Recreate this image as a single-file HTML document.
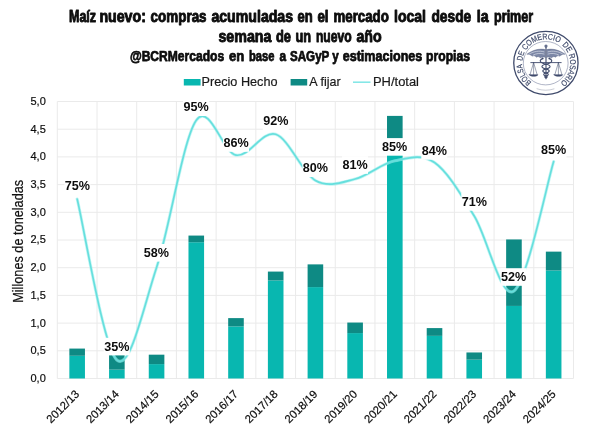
<!DOCTYPE html><html><head><meta charset="utf-8"><title>Maíz nuevo</title><style>html,body{margin:0;padding:0;background:#fff}svg{display:block}</style></head><body><svg width="600" height="435" viewBox="0 0 600 435" font-family="Liberation Sans, Arial, sans-serif">
<rect width="600" height="435" fill="#fff"/>
<line x1="57.3" x2="573.5" y1="101.50" y2="101.50" stroke="#eaeaea" stroke-width="1"/>
<line x1="57.3" x2="573.5" y1="129.20" y2="129.20" stroke="#eaeaea" stroke-width="1"/>
<line x1="57.3" x2="573.5" y1="156.90" y2="156.90" stroke="#eaeaea" stroke-width="1"/>
<line x1="57.3" x2="573.5" y1="184.60" y2="184.60" stroke="#eaeaea" stroke-width="1"/>
<line x1="57.3" x2="573.5" y1="212.30" y2="212.30" stroke="#eaeaea" stroke-width="1"/>
<line x1="57.3" x2="573.5" y1="240.00" y2="240.00" stroke="#eaeaea" stroke-width="1"/>
<line x1="57.3" x2="573.5" y1="267.70" y2="267.70" stroke="#eaeaea" stroke-width="1"/>
<line x1="57.3" x2="573.5" y1="295.40" y2="295.40" stroke="#eaeaea" stroke-width="1"/>
<line x1="57.3" x2="573.5" y1="323.10" y2="323.10" stroke="#eaeaea" stroke-width="1"/>
<line x1="57.3" x2="573.5" y1="350.80" y2="350.80" stroke="#eaeaea" stroke-width="1"/>
<line x1="57.3" x2="573.5" y1="378.50" y2="378.50" stroke="#eaeaea" stroke-width="1"/>
<line x1="57.30" x2="57.30" y1="101.5" y2="378.5" stroke="#eaeaea" stroke-width="1"/>
<line x1="97.01" x2="97.01" y1="101.5" y2="378.5" stroke="#eaeaea" stroke-width="1"/>
<line x1="136.72" x2="136.72" y1="101.5" y2="378.5" stroke="#eaeaea" stroke-width="1"/>
<line x1="176.42" x2="176.42" y1="101.5" y2="378.5" stroke="#eaeaea" stroke-width="1"/>
<line x1="216.13" x2="216.13" y1="101.5" y2="378.5" stroke="#eaeaea" stroke-width="1"/>
<line x1="255.84" x2="255.84" y1="101.5" y2="378.5" stroke="#eaeaea" stroke-width="1"/>
<line x1="295.55" x2="295.55" y1="101.5" y2="378.5" stroke="#eaeaea" stroke-width="1"/>
<line x1="335.25" x2="335.25" y1="101.5" y2="378.5" stroke="#eaeaea" stroke-width="1"/>
<line x1="374.96" x2="374.96" y1="101.5" y2="378.5" stroke="#eaeaea" stroke-width="1"/>
<line x1="414.67" x2="414.67" y1="101.5" y2="378.5" stroke="#eaeaea" stroke-width="1"/>
<line x1="454.38" x2="454.38" y1="101.5" y2="378.5" stroke="#eaeaea" stroke-width="1"/>
<line x1="494.08" x2="494.08" y1="101.5" y2="378.5" stroke="#eaeaea" stroke-width="1"/>
<line x1="533.79" x2="533.79" y1="101.5" y2="378.5" stroke="#eaeaea" stroke-width="1"/>
<line x1="573.50" x2="573.50" y1="101.5" y2="378.5" stroke="#eaeaea" stroke-width="1"/>
<rect x="69.35" y="355.79" width="15.6" height="22.71" fill="#08b7b0"/>
<rect x="69.35" y="348.58" width="15.6" height="7.20" fill="#0e8a84"/>
<rect x="109.06" y="369.64" width="15.6" height="8.86" fill="#08b7b0"/>
<rect x="109.06" y="353.85" width="15.6" height="15.79" fill="#0e8a84"/>
<rect x="148.77" y="364.10" width="15.6" height="14.40" fill="#08b7b0"/>
<rect x="148.77" y="354.68" width="15.6" height="9.42" fill="#0e8a84"/>
<rect x="188.48" y="242.22" width="15.6" height="136.28" fill="#08b7b0"/>
<rect x="188.48" y="235.57" width="15.6" height="6.65" fill="#0e8a84"/>
<rect x="228.18" y="326.42" width="15.6" height="52.08" fill="#08b7b0"/>
<rect x="228.18" y="318.11" width="15.6" height="8.31" fill="#0e8a84"/>
<rect x="267.89" y="280.44" width="15.6" height="98.06" fill="#08b7b0"/>
<rect x="267.89" y="271.58" width="15.6" height="8.86" fill="#0e8a84"/>
<rect x="307.60" y="287.09" width="15.6" height="91.41" fill="#08b7b0"/>
<rect x="307.60" y="264.38" width="15.6" height="22.71" fill="#0e8a84"/>
<rect x="347.31" y="333.07" width="15.6" height="45.43" fill="#08b7b0"/>
<rect x="347.31" y="322.55" width="15.6" height="10.53" fill="#0e8a84"/>
<rect x="387.02" y="154.68" width="15.6" height="223.82" fill="#08b7b0"/>
<rect x="387.02" y="115.90" width="15.6" height="38.78" fill="#0e8a84"/>
<rect x="426.72" y="335.84" width="15.6" height="42.66" fill="#08b7b0"/>
<rect x="426.72" y="328.09" width="15.6" height="7.76" fill="#0e8a84"/>
<rect x="466.43" y="359.66" width="15.6" height="18.84" fill="#08b7b0"/>
<rect x="466.43" y="352.46" width="15.6" height="7.20" fill="#0e8a84"/>
<rect x="506.14" y="305.93" width="15.6" height="72.57" fill="#08b7b0"/>
<rect x="506.14" y="239.45" width="15.6" height="66.48" fill="#0e8a84"/>
<rect x="545.85" y="270.47" width="15.6" height="108.03" fill="#08b7b0"/>
<rect x="545.85" y="251.63" width="15.6" height="18.84" fill="#0e8a84"/>
<path d="M77.15,199.00 C83.77,225.83 103.63,348.58 116.86,360.00 C130.10,371.42 143.33,307.45 156.57,267.50 C169.81,227.55 183.04,139.03 196.28,120.30 C209.51,101.57 222.75,152.77 235.98,155.10 C249.22,157.43 262.46,130.07 275.69,134.30 C288.93,138.53 302.16,173.05 315.40,180.50 C328.64,187.95 341.87,182.28 355.11,179.00 C368.34,175.72 381.58,163.55 394.82,160.80 C408.05,158.05 421.29,153.30 434.52,162.50 C447.76,171.70 460.99,194.58 474.23,216.00 C487.47,237.42 500.70,300.08 513.94,291.00 C527.17,281.92 547.03,183.08 553.65,161.50" fill="none" stroke="#9aeeed" stroke-opacity="0.6" stroke-width="3.1" stroke-linecap="round" stroke-linejoin="round"/>
<path d="M77.15,199.00 C83.77,225.83 103.63,348.58 116.86,360.00 C130.10,371.42 143.33,307.45 156.57,267.50 C169.81,227.55 183.04,139.03 196.28,120.30 C209.51,101.57 222.75,152.77 235.98,155.10 C249.22,157.43 262.46,130.07 275.69,134.30 C288.93,138.53 302.16,173.05 315.40,180.50 C328.64,187.95 341.87,182.28 355.11,179.00 C368.34,175.72 381.58,163.55 394.82,160.80 C408.05,158.05 421.29,153.30 434.52,162.50 C447.76,171.70 460.99,194.58 474.23,216.00 C487.47,237.42 500.70,300.08 513.94,291.00 C527.17,281.92 547.03,183.08 553.65,161.50" fill="none" stroke="#66dfdd" stroke-width="1.65" stroke-linecap="round" stroke-linejoin="round"/>
<text x="45.8" y="104.90" font-size="11.6" text-anchor="end" fill="#0d0d0d" stroke="#0d0d0d" stroke-width="0.2" textLength="15.3" lengthAdjust="spacingAndGlyphs">5,0</text>
<text x="45.8" y="132.60" font-size="11.6" text-anchor="end" fill="#0d0d0d" stroke="#0d0d0d" stroke-width="0.2" textLength="15.3" lengthAdjust="spacingAndGlyphs">4,5</text>
<text x="45.8" y="160.30" font-size="11.6" text-anchor="end" fill="#0d0d0d" stroke="#0d0d0d" stroke-width="0.2" textLength="15.3" lengthAdjust="spacingAndGlyphs">4,0</text>
<text x="45.8" y="188.00" font-size="11.6" text-anchor="end" fill="#0d0d0d" stroke="#0d0d0d" stroke-width="0.2" textLength="15.3" lengthAdjust="spacingAndGlyphs">3,5</text>
<text x="45.8" y="215.70" font-size="11.6" text-anchor="end" fill="#0d0d0d" stroke="#0d0d0d" stroke-width="0.2" textLength="15.3" lengthAdjust="spacingAndGlyphs">3,0</text>
<text x="45.8" y="243.40" font-size="11.6" text-anchor="end" fill="#0d0d0d" stroke="#0d0d0d" stroke-width="0.2" textLength="15.3" lengthAdjust="spacingAndGlyphs">2,5</text>
<text x="45.8" y="271.10" font-size="11.6" text-anchor="end" fill="#0d0d0d" stroke="#0d0d0d" stroke-width="0.2" textLength="15.3" lengthAdjust="spacingAndGlyphs">2,0</text>
<text x="45.8" y="298.80" font-size="11.6" text-anchor="end" fill="#0d0d0d" stroke="#0d0d0d" stroke-width="0.2" textLength="15.3" lengthAdjust="spacingAndGlyphs">1,5</text>
<text x="45.8" y="326.50" font-size="11.6" text-anchor="end" fill="#0d0d0d" stroke="#0d0d0d" stroke-width="0.2" textLength="15.3" lengthAdjust="spacingAndGlyphs">1,0</text>
<text x="45.8" y="354.20" font-size="11.6" text-anchor="end" fill="#0d0d0d" stroke="#0d0d0d" stroke-width="0.2" textLength="15.3" lengthAdjust="spacingAndGlyphs">0,5</text>
<text x="45.8" y="381.90" font-size="11.6" text-anchor="end" fill="#0d0d0d" stroke="#0d0d0d" stroke-width="0.2" textLength="15.3" lengthAdjust="spacingAndGlyphs">0,0</text>
<text transform="translate(23.2,241.3) rotate(-90)" font-size="13.8" text-anchor="middle" fill="#111" stroke="#111" stroke-width="0.2" textLength="123" lengthAdjust="spacingAndGlyphs">Millones de toneladas</text>
<text transform="translate(79.95,394.90) rotate(-45)" font-size="11.3" text-anchor="end" fill="#0d0d0d" stroke="#0d0d0d" stroke-width="0.2">2012/13</text>
<text transform="translate(119.66,394.90) rotate(-45)" font-size="11.3" text-anchor="end" fill="#0d0d0d" stroke="#0d0d0d" stroke-width="0.2">2013/14</text>
<text transform="translate(159.37,394.90) rotate(-45)" font-size="11.3" text-anchor="end" fill="#0d0d0d" stroke="#0d0d0d" stroke-width="0.2">2014/15</text>
<text transform="translate(199.08,394.90) rotate(-45)" font-size="11.3" text-anchor="end" fill="#0d0d0d" stroke="#0d0d0d" stroke-width="0.2">2015/16</text>
<text transform="translate(238.78,394.90) rotate(-45)" font-size="11.3" text-anchor="end" fill="#0d0d0d" stroke="#0d0d0d" stroke-width="0.2">2016/17</text>
<text transform="translate(278.49,394.90) rotate(-45)" font-size="11.3" text-anchor="end" fill="#0d0d0d" stroke="#0d0d0d" stroke-width="0.2">2017/18</text>
<text transform="translate(318.20,394.90) rotate(-45)" font-size="11.3" text-anchor="end" fill="#0d0d0d" stroke="#0d0d0d" stroke-width="0.2">2018/19</text>
<text transform="translate(357.91,394.90) rotate(-45)" font-size="11.3" text-anchor="end" fill="#0d0d0d" stroke="#0d0d0d" stroke-width="0.2">2019/20</text>
<text transform="translate(397.62,394.90) rotate(-45)" font-size="11.3" text-anchor="end" fill="#0d0d0d" stroke="#0d0d0d" stroke-width="0.2">2020/21</text>
<text transform="translate(437.32,394.90) rotate(-45)" font-size="11.3" text-anchor="end" fill="#0d0d0d" stroke="#0d0d0d" stroke-width="0.2">2021/22</text>
<text transform="translate(477.03,394.90) rotate(-45)" font-size="11.3" text-anchor="end" fill="#0d0d0d" stroke="#0d0d0d" stroke-width="0.2">2022/23</text>
<text transform="translate(516.74,394.90) rotate(-45)" font-size="11.3" text-anchor="end" fill="#0d0d0d" stroke="#0d0d0d" stroke-width="0.2">2023/24</text>
<text transform="translate(556.45,394.90) rotate(-45)" font-size="11.3" text-anchor="end" fill="#0d0d0d" stroke="#0d0d0d" stroke-width="0.2">2024/25</text>
<rect x="64.40" y="177.10" width="26" height="17.6" fill="#fff"/>
<text x="77.4" y="190.00" font-size="12.6" font-weight="bold" text-anchor="middle" fill="#0d0d0d">75%</text>
<rect x="103.80" y="337.80" width="26" height="17.6" fill="#fff"/>
<text x="116.8" y="350.70" font-size="12.6" font-weight="bold" text-anchor="middle" fill="#0d0d0d">35%</text>
<rect x="143.40" y="244.00" width="26" height="17.6" fill="#fff"/>
<text x="156.4" y="256.90" font-size="12.6" font-weight="bold" text-anchor="middle" fill="#0d0d0d">58%</text>
<rect x="183.00" y="98.40" width="26" height="17.6" fill="#fff"/>
<text x="196" y="111.30" font-size="12.6" font-weight="bold" text-anchor="middle" fill="#0d0d0d">95%</text>
<rect x="223.00" y="134.20" width="26" height="17.6" fill="#fff"/>
<text x="236" y="147.10" font-size="12.6" font-weight="bold" text-anchor="middle" fill="#0d0d0d">86%</text>
<rect x="262.80" y="112.40" width="26" height="17.6" fill="#fff"/>
<text x="275.8" y="125.30" font-size="12.6" font-weight="bold" text-anchor="middle" fill="#0d0d0d">92%</text>
<rect x="302.40" y="159.40" width="26" height="17.6" fill="#fff"/>
<text x="315.4" y="172.30" font-size="12.6" font-weight="bold" text-anchor="middle" fill="#0d0d0d">80%</text>
<rect x="342.00" y="156.20" width="26" height="17.6" fill="#fff"/>
<text x="355" y="169.10" font-size="12.6" font-weight="bold" text-anchor="middle" fill="#0d0d0d">81%</text>
<rect x="381.50" y="138.10" width="26" height="17.6" fill="#fff"/>
<text x="394.5" y="151.00" font-size="12.6" font-weight="bold" text-anchor="middle" fill="#0d0d0d">85%</text>
<rect x="421.30" y="142.10" width="26" height="17.6" fill="#fff"/>
<text x="434.3" y="155.00" font-size="12.6" font-weight="bold" text-anchor="middle" fill="#0d0d0d">84%</text>
<rect x="461.30" y="193.10" width="26" height="17.6" fill="#fff"/>
<text x="474.3" y="206.00" font-size="12.6" font-weight="bold" text-anchor="middle" fill="#0d0d0d">71%</text>
<rect x="500.60" y="268.20" width="26" height="17.6" fill="#fff"/>
<text x="513.6" y="281.10" font-size="12.6" font-weight="bold" text-anchor="middle" fill="#0d0d0d">52%</text>
<rect x="540.50" y="140.60" width="26" height="17.6" fill="#fff"/>
<text x="553.5" y="153.50" font-size="12.6" font-weight="bold" text-anchor="middle" fill="#0d0d0d">85%</text>
<rect x="183.8" y="79" width="16.8" height="6.5" fill="#08b7b0"/>
<text x="201.5" y="85.8" font-size="13.5" fill="#1a1a1a" stroke="#1a1a1a" stroke-width="0.2" textLength="76" lengthAdjust="spacingAndGlyphs">Precio Hecho</text>
<rect x="290.6" y="79" width="16.6" height="6.5" fill="#0e8a84"/>
<text x="309.3" y="85.8" font-size="13.5" fill="#1a1a1a" stroke="#1a1a1a" stroke-width="0.2" textLength="31.4" lengthAdjust="spacingAndGlyphs">A fijar</text>
<line x1="353" x2="370.5" y1="82.2" y2="82.2" stroke="#7fe6e6" stroke-width="1.5"/>
<text x="373" y="85.8" font-size="13.5" fill="#1a1a1a" stroke="#1a1a1a" stroke-width="0.2" textLength="46" lengthAdjust="spacingAndGlyphs">PH/total</text>
<g font-size="16" font-weight="bold" fill="#0d0d0d" stroke="#0d0d0d" stroke-width="0.9" stroke-linejoin="round"><text x="69.0" y="22" textLength="27.1" lengthAdjust="spacingAndGlyphs">Maíz</text><text x="99.4" y="22" textLength="46.5" lengthAdjust="spacingAndGlyphs">nuevo:</text><text x="150.6" y="22" textLength="56.0" lengthAdjust="spacingAndGlyphs">compras</text><text x="211.4" y="22" textLength="81.7" lengthAdjust="spacingAndGlyphs">acumuladas</text><text x="297.4" y="22" textLength="15.2" lengthAdjust="spacingAndGlyphs">en</text><text x="317.4" y="22" textLength="11.2" lengthAdjust="spacingAndGlyphs">el</text><text x="333.4" y="22" textLength="55.5" lengthAdjust="spacingAndGlyphs">mercado</text><text x="394.0" y="22" textLength="32.0" lengthAdjust="spacingAndGlyphs">local</text><text x="431.4" y="22" textLength="39.9" lengthAdjust="spacingAndGlyphs">desde</text><text x="476.7" y="22" textLength="11.9" lengthAdjust="spacingAndGlyphs">la</text><text x="494.1" y="22" textLength="39.0" lengthAdjust="spacingAndGlyphs">primer</text></g>
<g font-size="16" font-weight="bold" fill="#0d0d0d" stroke="#0d0d0d" stroke-width="0.9" stroke-linejoin="round"><text x="218.4" y="42" textLength="53.1" lengthAdjust="spacingAndGlyphs">semana</text><text x="276.0" y="42" textLength="15.0" lengthAdjust="spacingAndGlyphs">de</text><text x="295.5" y="42" textLength="15.6" lengthAdjust="spacingAndGlyphs">un</text><text x="315.9" y="42" textLength="35.7" lengthAdjust="spacingAndGlyphs">nuevo</text><text x="356.4" y="42" textLength="25.2" lengthAdjust="spacingAndGlyphs">año</text></g>
<g font-size="14.5" font-weight="bold" fill="#0d0d0d" stroke="#0d0d0d" stroke-width="0.75" stroke-linejoin="round"><text x="129.9" y="60.9" textLength="94.2" lengthAdjust="spacingAndGlyphs">@BCRMercados</text><text x="228.9" y="60.9" textLength="15.3" lengthAdjust="spacingAndGlyphs">en</text><text x="249.0" y="60.9" textLength="25.5" lengthAdjust="spacingAndGlyphs">base</text><text x="279.4" y="60.9" textLength="6.6" lengthAdjust="spacingAndGlyphs">a</text><text x="290.0" y="60.9" textLength="48.8" lengthAdjust="spacingAndGlyphs">SAGyP y</text><text x="342.7" y="60.9" textLength="79.6" lengthAdjust="spacingAndGlyphs">estimaciones</text><text x="426.1" y="60.9" textLength="43.8" lengthAdjust="spacingAndGlyphs">propias</text></g>
<g fill="none">
<ellipse cx="545.9" cy="62.95" rx="32.15" ry="31.6" stroke="#3f4a6b" stroke-width="1.3"/>
<ellipse cx="545.7" cy="63.2" rx="22.4" ry="21.7" stroke="#8c94ad" stroke-width="0.7"/>
</g>
<defs><path id="arc0" d="M531.42,82.21 A24.0,24.0 0 0 1 522.33,60.79"/><path id="arc1" d="M522.31,61.00 A24.0,24.0 0 0 1 526.54,49.53"/><path id="arc2" d="M525.85,50.58 A24.0,24.0 0 0 1 561.63,44.91"/><path id="arc3" d="M561.95,45.19 A24.0,24.0 0 0 1 569.09,56.08"/><path id="arc4" d="M568.61,54.70 A24.0,24.0 0 0 1 557.65,84.39"/></defs>
<g font-size="8.2" fill="#3f4a6b" stroke="#3f4a6b" stroke-width="0.2"><text><textPath href="#arc0" startOffset="0" textLength="20.9" lengthAdjust="spacingAndGlyphs">BOLSA</textPath></text><text><textPath href="#arc1" startOffset="0" textLength="9.0" lengthAdjust="spacingAndGlyphs">DE</textPath></text><text><textPath href="#arc2" startOffset="0" textLength="37.7" lengthAdjust="spacingAndGlyphs">COMERCIO</textPath></text><text><textPath href="#arc3" startOffset="0" textLength="9.8" lengthAdjust="spacingAndGlyphs">DE</textPath></text><text><textPath href="#arc4" startOffset="0" textLength="31.2" lengthAdjust="spacingAndGlyphs">ROSARIO</textPath></text></g>
<g transform="translate(546,64.2)" fill="none" stroke="#3f4a6b" stroke-linecap="round" stroke-linejoin="round">
<path d="M-9,24.6 A26.5,26.5 0 0 0 8,24.7" stroke-width="0.5" opacity="0.55"/>
<line x1="0" y1="-17" x2="0" y2="14.6" stroke-width="1.1"/>
<circle cx="0" cy="-18.2" r="1.6" fill="#66708f" stroke="none"/>
<path d="M-0.8,-14.6 C-6,-16 -13,-14.4 -19.2,-10 C-16.4,-10 -15,-9.4 -14,-8 C-12.4,-8.8 -10.8,-8.4 -9.8,-7 C-8.2,-8 -6.6,-7.6 -5.6,-6.2 C-4.2,-7.4 -2.2,-7.6 -0.8,-6.8 Z" fill="#7c87a6" stroke="#5b6686" stroke-width="0.4"/>
<path d="M-0.8,-14.6 C-6,-16 -13,-14.4 -19.2,-10 C-16.4,-10 -15,-9.4 -14,-8 C-12.4,-8.8 -10.8,-8.4 -9.8,-7 C-8.2,-8 -6.6,-7.6 -5.6,-6.2 C-4.2,-7.4 -2.2,-7.6 -0.8,-6.8 Z" transform="scale(-1,1)" fill="#7c87a6" stroke="#5b6686" stroke-width="0.4"/>
<path d="M-2,-12.4 C-7,-13.8 -12,-12.8 -16.4,-10.4 M-2,-10.2 C-6,-11.4 -9.6,-10.8 -12.6,-9.2" stroke="#e6e9f2" stroke-width="0.6"/>
<path d="M2,-12.4 C7,-13.8 12,-12.8 16.4,-10.4 M2,-10.2 C6,-11.4 9.6,-10.8 12.6,-9.2" stroke="#e6e9f2" stroke-width="0.6"/>
<path d="M-3.2,-5.6 C-8,-3.6 -5.6,-1 0,0 C5.4,1 5.4,3.6 0,4.8 C-4.4,5.8 -4.2,8 0,8.8 C3.2,9.4 3,11.2 0,11.8 C-1.8,12.2 -1.6,13.2 0,13.6" stroke-width="1.1"/>
<path d="M3.2,-5.6 C8,-3.6 5.6,-1 0,0 C-5.4,1 -5.4,3.6 0,4.8 C4.4,5.8 4.2,8 0,8.8 C-3.2,9.4 -3,11.2 0,11.8 C1.8,12.2 1.6,13.2 0,13.6" stroke-width="1.1"/>
<circle cx="-3.4" cy="-5.8" r="0.9" fill="#3f4a6b" stroke="none"/><circle cx="3.4" cy="-5.8" r="0.9" fill="#3f4a6b" stroke="none"/>
<line x1="-15.2" y1="-1.6" x2="15.2" y2="-1.6" stroke-width="0.9"/>
<path d="M-12.4,-1.6 L-16.0,10.6 M-12.4,-1.6 L-8.8,10.6 M-12.4,-1.6 L-12.4,10.6" stroke-width="0.5"/>
<path d="M-16.6,10.6 L-8.2,10.6 C-9.0,12.6 -15.8,12.6 -16.6,10.6 Z" fill="#3f4a6b" stroke-width="0.6"/>
<path d="M12.4,-1.6 L8.8,10.6 M12.4,-1.6 L16.0,10.6 M12.4,-1.6 L12.4,10.6" stroke-width="0.5"/>
<path d="M8.2,10.6 L16.6,10.6 C15.8,12.6 9.0,12.6 8.2,10.6 Z" fill="#3f4a6b" stroke-width="0.6"/>
</g>
</svg></body></html>
